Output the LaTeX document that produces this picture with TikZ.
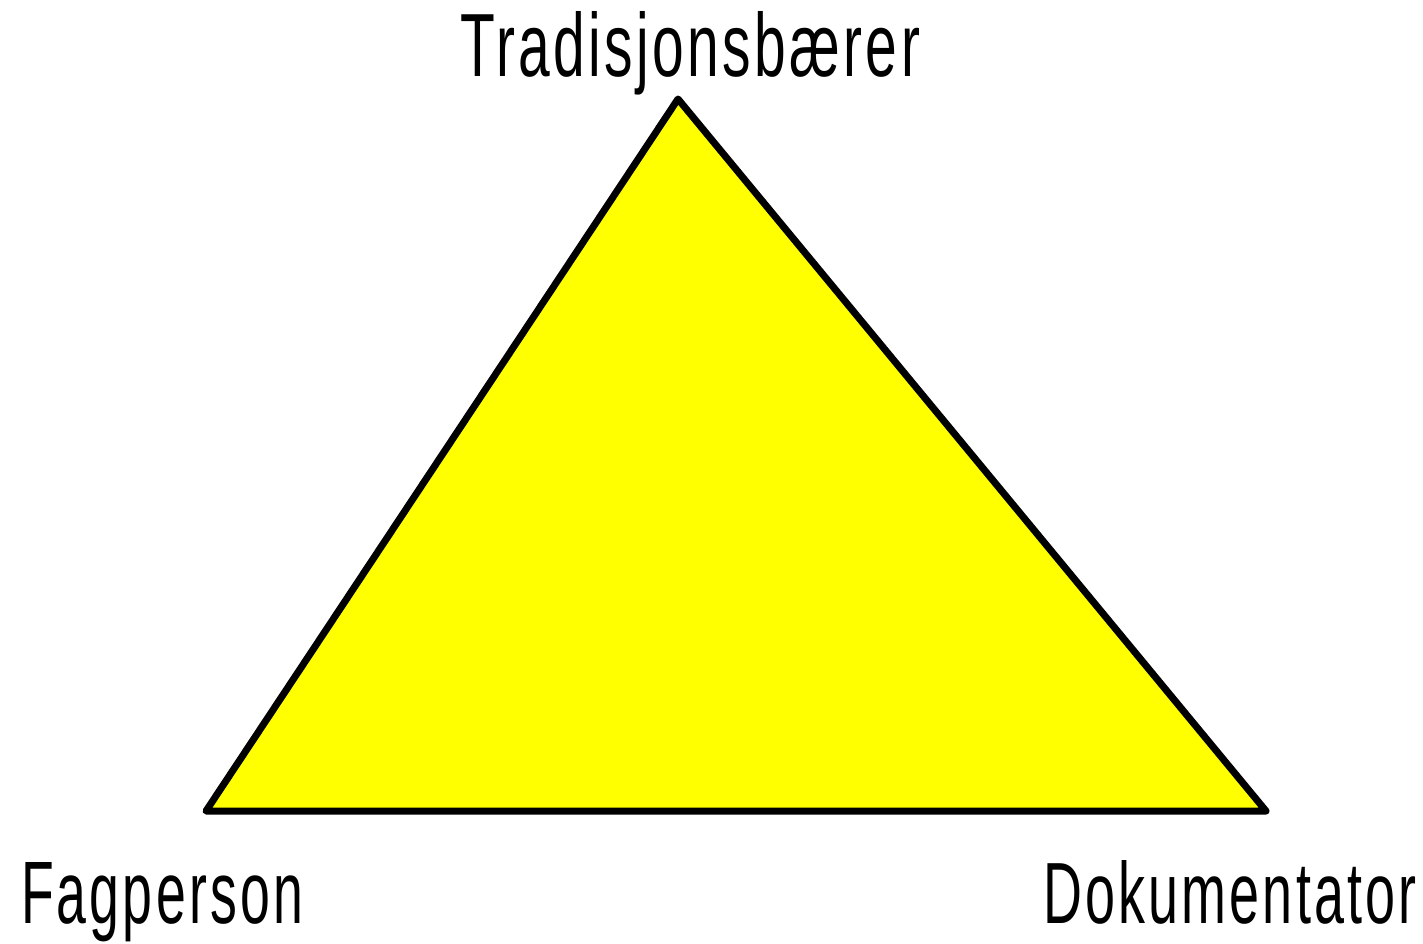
\documentclass[tikz,border=0pt]{standalone}
\usepackage{fontspec}
\setmainfont{Liberation Sans}[LetterSpace=6]
\definecolor{triyellow}{HTML}{FFFF00}
\begin{document}
\begin{tikzpicture}[x=1pt,y=-1pt,
  lbl/.style={inner sep=0pt,outer sep=0pt,anchor=base west,text=black},
  tri/.style={draw=black,fill=triyellow,line width=7pt,line join=round}]
\useasboundingbox (0,0) rectangle (1423,944);
\fill[white] (0,0) rectangle (1423,944);
\coordinate (top) at (678,99);
\coordinate (left) at (206,811);
\coordinate (right) at (1266,811);
\draw[tri] (top) -- (left) -- (right) -- cycle;
\node[lbl] (t) at (460,77) {\resizebox{460pt}{65pt}{Tradisjonsbærer}};
\node[lbl] (f) at (21,923) {\resizebox{282pt}{61pt}{Fagperson}};
\node[lbl] (d) at (1043,923) {\resizebox{374pt}{63pt}{Dokumentator}};
\end{tikzpicture}
\end{document}
